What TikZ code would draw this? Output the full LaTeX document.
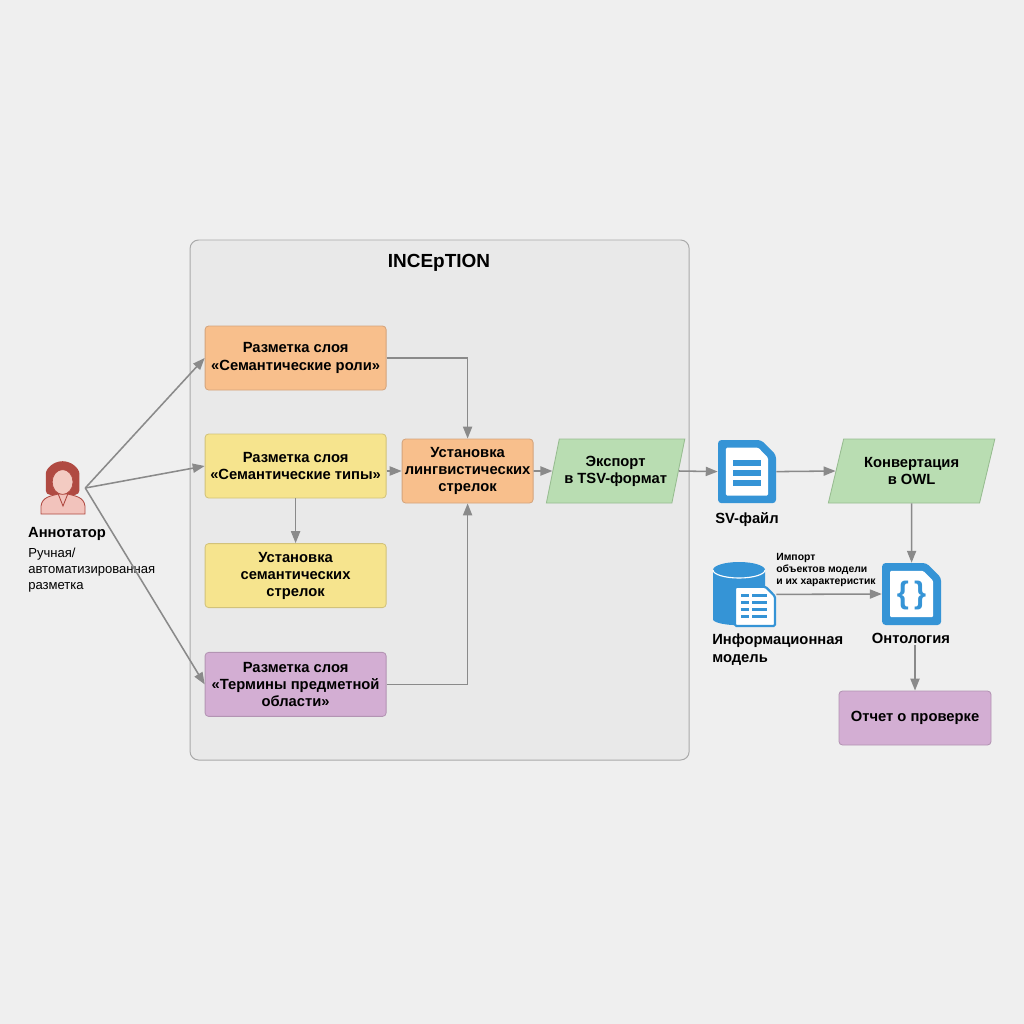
\documentclass[tikz,border=0pt]{standalone}
\usepackage{fontspec}
\setmainfont{Liberation Sans}
\usetikzlibrary{shapes.geometric,arrows.meta}

\definecolor{bggray}{HTML}{EFEFEF}
\definecolor{boxgray}{HTML}{E9E9E9}
\definecolor{framegray}{HTML}{A9A9A9}
\definecolor{arrowgray}{HTML}{8A8A8A}
\definecolor{orangefill}{HTML}{F8BF8C}
\definecolor{orangeline}{HTML}{D4A47C}
\definecolor{yellowfill}{HTML}{F6E48E}
\definecolor{yellowline}{HTML}{D2C27A}
\definecolor{purplefill}{HTML}{D3AED3}
\definecolor{purpleline}{HTML}{B394B3}
\definecolor{greenfill}{HTML}{B9DDB2}
\definecolor{greenline}{HTML}{97BC90}
\definecolor{iconblue}{HTML}{3594D6}
\definecolor{hairred}{HTML}{B04A42}
\definecolor{skinpink}{HTML}{F3CBC2}
\definecolor{shirtpink}{HTML}{F2C3BC}

\tikzset{
  >={Triangle[length=8.5pt,width=6.5pt]},
  box/.style={rectangle, rounded corners=2.5pt, line width=0.6pt,
    minimum width=4.525cm, minimum height=1.6cm, inner sep=1pt,
    align=center, font=\bfseries\fontsize{10.5}{12.2}\selectfont},
  para/.style={trapezium, trapezium left angle=70, trapezium right angle=110,
    trapezium stretches=true, minimum height=1.6cm, inner sep=1pt,
    fill=greenfill, draw=greenline, line width=0.6pt,
    align=center, font=\bfseries\fontsize{10.5}{12.2}\selectfont},
  arr/.style={->, draw=arrowgray, line width=1.1pt},
  icon/.style={draw=none, inner sep=0pt},
  lbl/.style={inner sep=1pt, align=center, font=\bfseries\fontsize{10.5}{12.2}\selectfont}
}

\begin{document}
\begin{tikzpicture}
  \useasboundingbox[fill=bggray] (0,0) rectangle (25.6,-25.6);

  % INCEpTION frame
  \node (IN) at (10.99,-12.5) [draw=framegray, fill=boxgray, line width=0.7pt,
    rounded corners=6pt, minimum width=12.475cm, minimum height=13cm] {};
  \node (INT) at (10.975,-6.575) [lbl, font=\bfseries\fontsize{13.5}{15}\selectfont] {INCEpTION};

  \node (SR) at (7.39,-8.95) [box, fill=orangefill, draw=orangeline] {Разметка слоя\\«Семантические роли»};
  \node (ST) at (7.39,-11.65) [box, fill=yellowfill, draw=yellowline] {Разметка слоя\\«Семантические типы»};
  \node (SA) at (7.39,-14.39) [box, fill=yellowfill, draw=yellowline] {Установка\\семантических\\стрелок};
  \node (TD) at (7.39,-17.11) [box, fill=purplefill, draw=purpleline] {Разметка слоя\\«Термины предметной\\области»};
  \node (LA) at (11.69,-11.775) [box, minimum width=3.275cm, inner sep=0.5pt, fill=orangefill, draw=orangeline] {Установка\\лингвистических\\стрелок};
  \node (EX) at (15.39,-11.775) [para, minimum width=3.475cm] {Экспорт\\в TSV-формат};
  \node (CO) at (22.79,-11.775) [para, minimum width=4.175cm] {Конвертация\\в OWL};
  \node (RE) at (22.875,-17.95) [box, minimum width=3.8cm, minimum height=1.35cm, fill=purplefill, draw=purpleline] {Отчет о проверке};

  % annotator
  \node (AN) at (1.575,-12.2) [icon, minimum width=1.1cm, minimum height=1.3cm] {};
  \begin{scope}[shift={(AN.center)}]
    \fill[hairred, rounded corners=3pt] (-0.43,-0.17) -- (-0.43,0.25) arc[start angle=180, end angle=0, radius=0.42] -- (0.41,-0.17) -- cycle;
    \filldraw[fill=shirtpink, draw=hairred, line width=0.6pt] (-0.55,-0.65) -- (-0.55,-0.45)
      .. controls (-0.52,-0.22) and (-0.3,-0.2) .. (-0.12,-0.15) -- (0.12,-0.15)
      .. controls (0.3,-0.2) and (0.52,-0.22) .. (0.55,-0.45) -- (0.55,-0.65) -- cycle;
    \draw[hairred, line width=0.6pt] (-0.12,-0.15) -- (0,-0.45) -- (0.12,-0.15);
    \filldraw[fill=skinpink, draw=hairred, line width=0.5pt] (-0.01,0.15) ellipse[x radius=0.26, y radius=0.31];
    \fill[hairred] (-0.28,0.28) .. controls (-0.1,0.55) and (0.15,0.5) .. (0.26,0.28) -- (0.3,0.5) -- (-0.3,0.5) -- cycle;
  \end{scope}
  \node (ANL) at (1.675,-13.35) [lbl] {Аннотатор};
  \node (ANS) at (0.7,-13.7) [anchor=north west, inner sep=0pt, align=left,
    font=\fontsize{9.3}{11.3}\selectfont] {Ручная/\\автоматизированная\\разметка};

  % SV file
  \node (SV) at (18.675,-11.79) [icon, minimum width=1.45cm, minimum height=1.575cm] {};
  \begin{scope}[shift={(SV.center)}]
    \fill[iconblue, rounded corners=2.5pt] (-0.725,-0.79) -- (0.725,-0.79) -- (0.725,0.42) -- (0.355,0.79) -- (-0.725,0.79) -- cycle;
    \fill[white, rounded corners=1pt] (-0.53,-0.6) -- (0.53,-0.6) -- (0.53,0.34) -- (0.28,0.6) -- (-0.53,0.6) -- cycle;
    \foreach \y in {0.21,-0.04,-0.29}
      \fill[iconblue] (-0.34,\y-0.075) rectangle (0.34,\y+0.075);
  \end{scope}
  \node (SVL) at (18.675,-13.0) [lbl] {SV-файл};

  % information model
  \node (IM) at (18.6,-14.86) [icon, minimum width=1.6cm, minimum height=1.575cm] {};
  \begin{scope}[shift={(IM.center)}]
    \fill[iconblue] (-0.775,0.61) -- (-0.775,-0.62) arc[x radius=0.65, y radius=0.15, start angle=180, end angle=360]
      -- (0.525,0.61) arc[x radius=0.65, y radius=0.2, start angle=0, end angle=180] -- cycle;
    \draw[white, line width=0.8pt] (-0.775,0.61) arc[x radius=0.65, y radius=0.2, start angle=180, end angle=360];
    \filldraw[fill=white, draw=iconblue, line width=1.6pt, rounded corners=1pt] (-0.225,-0.79) -- (0.775,-0.79) -- (0.775,-0.05) -- (0.54,0.19) -- (-0.225,0.19) -- cycle;
    \foreach \y in {-0.02,-0.2,-0.38,-0.56} {
      \fill[iconblue] (-0.08,\y-0.04) rectangle (0.12,\y+0.04);
      \fill[iconblue] (0.2,\y-0.04) rectangle (0.58,\y+0.04);
    }
  \end{scope}
  \node (IML) at (17.8,-15.85) [anchor=north west, inner sep=0pt, align=left,
    font=\bfseries\fontsize{10.5}{12.2}\selectfont] {Информационная\\модель};
  \node (IMP) at (19.4,-13.83) [anchor=north west, inner sep=0pt, align=left,
    font=\bfseries\fontsize{7.4}{8.5}\selectfont] {Импорт\\объектов модели\\и их характеристик};

  % ontology
  \node (ON) at (22.79,-14.85) [icon, minimum width=1.475cm, minimum height=1.55cm] {};
  \begin{scope}[shift={(ON.center)}]
    \fill[iconblue, rounded corners=2.5pt] (-0.7375,-0.775) -- (0.7375,-0.775) -- (0.7375,0.41) -- (0.37,0.775) -- (-0.7375,0.775) -- cycle;
    \fill[white, rounded corners=1pt] (-0.54,-0.58) -- (0.54,-0.58) -- (0.54,0.33) -- (0.29,0.58) -- (-0.54,0.58) -- cycle;
    \node (ONB) at (0,-0.03) [inner sep=0pt, text=iconblue, font=\bfseries\fontsize{22}{22}\selectfont] {\{\,\}};
  \end{scope}
  \node (ONL) at (22.775,-15.95) [lbl] {Онтология};

  \draw[arr] (AN.east) -- (SR.west);
  \draw[arr] (AN.east) -- (ST.west);
  \draw[arr] (AN.east) -- (TD.west);
  \draw[arr] (SR.east) -| (LA.north);
  \draw[arr] (ST.east |- LA.west) -- (LA.west);
  \draw[arr] (ST.south) -- (SA.north);
  \draw[arr] (TD.east) -| (LA.south);
  \draw[arr] (LA.east) -- (EX.west);
  \draw[arr] (EX.east) -- (SV.west);
  \draw[arr] (SV.east) -- (CO.west);
  \draw[arr] (CO.south) -- (ON.north);
  \draw[arr] (IM.east) -- (ON.west);
  \draw[arr] (RE.north |- ONL.south) -- (RE.north);
\end{tikzpicture}
\end{document}
